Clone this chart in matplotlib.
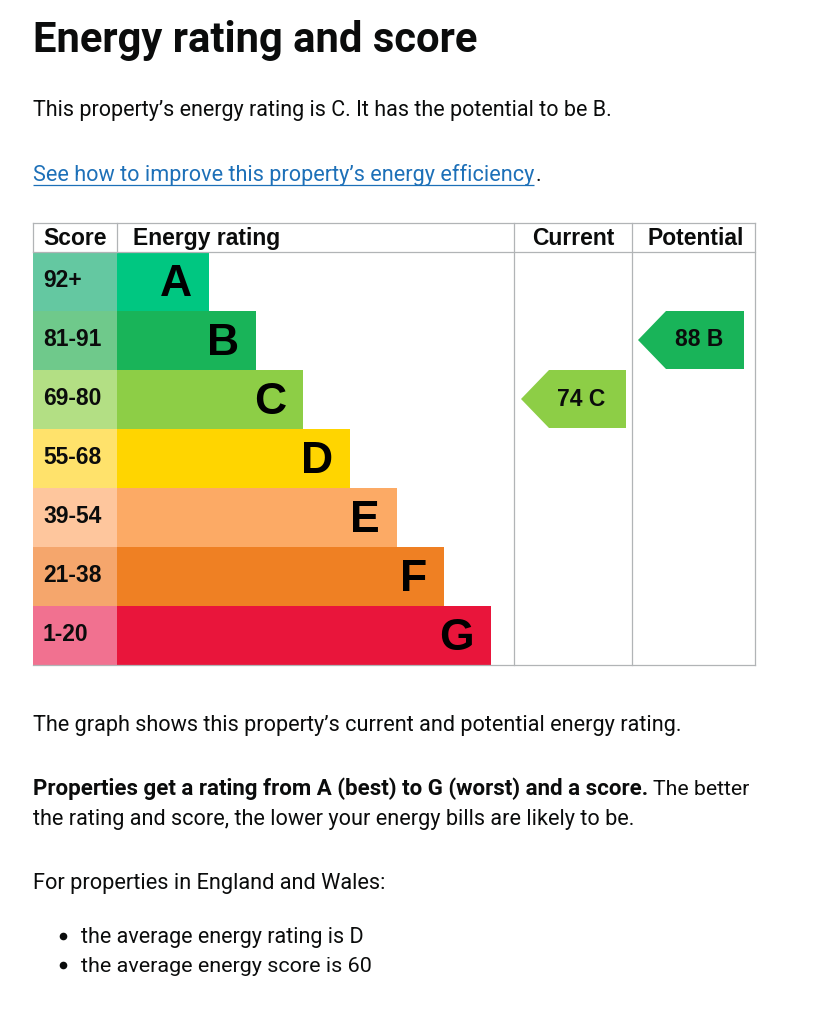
import matplotlib
matplotlib.use('Agg')
import matplotlib.pyplot as plt
from matplotlib.patches import Polygon

# ---------------- data ----------------
ratings = ['A', 'B', 'C', 'D', 'E', 'F', 'G']
score_ranges = ['92+', '81-91', '69-80', '55-68', '39-54', '21-38', '1-20']
band_min = [92, 81, 69, 55, 39, 21, 1]
bar_colors = ['#00c781', '#19b459', '#8dce46', '#ffd500', '#fcaa65', '#ef8023', '#e9153b']
score_colors = ['#64c8a1', '#6fc98b', '#b3df84', '#ffe26b', '#fec69d', '#f5a66c', '#f17190']
current_score = 74
potential_score = 88
header_labels = ['Score', 'Energy rating', 'Current', 'Potential']

title = 'Energy rating and score'
intro = 'This property\u2019s energy rating is C. It has the potential to be B.'
link = 'See how to improve this property\u2019s energy efficiency'
graph_note = 'The graph shows this property\u2019s current and potential energy rating.'
bold_part = 'Properties get a rating from A (best) to G (worst) and a score.'
normal_part = 'The better'
line2 = 'the rating and score, the lower your energy bills are likely to be.'
region = 'For properties in England and Wales:'
bullets = ['the average energy rating is D', 'the average energy score is 60']

# ---------------- layout ----------------
W, H = 826, 1024
TL, TR, TT = 33, 755, 223
HEAD_H, ROW_H = 29, 59
SCORE_W = 84
BAR_MIN, BAR_STEP = 92, 47
COL_CUR, COL_POT = 514, 632
GRID = '#b1b4b6'
TEXT = '#0b0c0c'
LINK = '#1d70b8'
BODY_FONT = 'Roboto'
CHART_FONT = ['Liberation Sans', 'DejaVu Sans']

fig = plt.figure(figsize=(W / 100, H / 100), dpi=100)
ax = fig.add_axes([0, 0, 1, 1])
ax.set_xlim(0, W)
ax.set_ylim(H, 0)
ax.axis('off')
renderer = fig.canvas.get_renderer()


def fit_text(x, y, s, target_w, **kw):
    t = ax.text(x, y, s, fontsize=20, **kw)
    bb = t.get_window_extent(renderer)
    t.set_fontsize(20 * target_w / bb.width)
    return t


# ---------------- page text ----------------
fit_text(TL, 52, title, 444, family=BODY_FONT, weight='bold', color=TEXT, va='baseline')
fit_text(TL, 116, intro, 579, family=BODY_FONT, color=TEXT, va='baseline')
lt = fit_text(TL, 181, link, 498, family=BODY_FONT, color=LINK, va='baseline')
bb = lt.get_window_extent(renderer)
ax.plot([TL, TL + bb.width], [185, 185], color=LINK, lw=0.9, solid_capstyle='butt')
ax.text(TL + bb.width + 1, 181, '.', fontsize=lt.get_fontsize(), family=BODY_FONT,
        color=TEXT, va='baseline')

fit_text(TL, 731, graph_note, 646, family=BODY_FONT, color=TEXT, va='baseline')
bt = fit_text(TL, 795, bold_part, 612, family=BODY_FONT, weight='bold', color=TEXT, va='baseline')
bbb = bt.get_window_extent(renderer)
fit_text(TL + bbb.width + 5, 795, normal_part, 96, family=BODY_FONT, color=TEXT, va='baseline')
fit_text(TL, 825, line2, 598, family=BODY_FONT, color=TEXT, va='baseline')
fit_text(TL, 889, region, 351, family=BODY_FONT, color=TEXT, va='baseline')
bullet_y = []
for i, b in enumerate(bullets):
    yb = 943 + i * 29
    fit_text(81, yb, b, [282, 290][i], family=BODY_FONT, color=TEXT, va='baseline')
    bullet_y.append(yb - 7)
ax.plot([63] * len(bullet_y), bullet_y, linestyle='none', marker='o', markersize=5.5,
        color=TEXT, markeredgewidth=0)

# ---------------- chart ----------------
n = len(ratings)
row_top = [TT + HEAD_H + i * ROW_H for i in range(n)]
row_ctr = [r + ROW_H / 2 for r in row_top]
bar_w = [BAR_MIN + BAR_STEP * i for i in range(n)]

ax.barh(row_ctr, [SCORE_W] * n, left=TL, height=ROW_H, color=score_colors, linewidth=0)
ax.barh(row_ctr, bar_w, left=TL + SCORE_W, height=ROW_H, color=bar_colors, linewidth=0)

bottom = TT + HEAD_H + n * ROW_H
lw = 0.9
# outer border and grid
ax.plot([TL, TR], [TT, TT], color=GRID, lw=lw)
ax.plot([TL, TR], [TT + HEAD_H, TT + HEAD_H], color=GRID, lw=lw)
ax.plot([TL, TR], [bottom, bottom], color=GRID, lw=lw)
ax.plot([TL, TL], [TT, TT + HEAD_H], color=GRID, lw=lw)
ax.plot([TR, TR], [TT, bottom], color=GRID, lw=lw)
ax.plot([TL + SCORE_W, TL + SCORE_W], [TT, TT + HEAD_H], color=GRID, lw=lw)
ax.plot([COL_CUR, COL_CUR], [TT, bottom], color=GRID, lw=lw)
ax.plot([COL_POT, COL_POT], [TT, bottom], color=GRID, lw=lw)

cs = 16.5
hy = TT + HEAD_H / 2 + 1
ax.text(43, hy, header_labels[0], fontsize=cs, family=CHART_FONT, weight='bold', color=TEXT, va='center')
ax.text(133, hy, header_labels[1], fontsize=cs, family=CHART_FONT, weight='bold', color=TEXT, va='center')
ax.text((COL_CUR + COL_POT) / 2, hy, header_labels[2], fontsize=cs, family=CHART_FONT, weight='bold',
        color=TEXT, va='center', ha='center')
ax.text((COL_POT + TR) / 2 + 2, hy, header_labels[3], fontsize=cs, family=CHART_FONT, weight='bold',
        color=TEXT, va='center', ha='center')

for i in range(n):
    ax.text(43, row_ctr[i] - 1, score_ranges[i], fontsize=cs, family=CHART_FONT, weight='bold',
            color=TEXT, va='center')
    ax.text(TL + SCORE_W + bar_w[i] - 17, row_ctr[i] + 3, ratings[i], fontsize=32, family=CHART_FONT,
            weight='bold', color='black', va='center', ha='right')


def band_of(score):
    for i, m in enumerate(band_min):
        if score >= m:
            return i
    return n - 1


def arrow(score, x_left, x_right):
    i = band_of(score)
    top, bot = row_top[i], row_top[i] + ROW_H - 1
    mid = (top + bot) / 2
    notch = 28
    poly = Polygon([(x_left, mid), (x_left + notch, top), (x_right, top), (x_right, bot),
                    (x_left + notch, bot)], closed=True, facecolor=bar_colors[i], edgecolor='none')
    ax.add_patch(poly)
    ax.text((x_left + x_right) / 2 + 8, mid, f'{score} {ratings[i]}', fontsize=cs,
            family=CHART_FONT, weight='bold', color=TEXT, va='center', ha='center')


arrow(current_score, COL_CUR + 7, COL_CUR + 112)
arrow(potential_score, COL_POT + 6, COL_POT + 112)

fig.savefig('out.png', dpi=100, facecolor='white')
